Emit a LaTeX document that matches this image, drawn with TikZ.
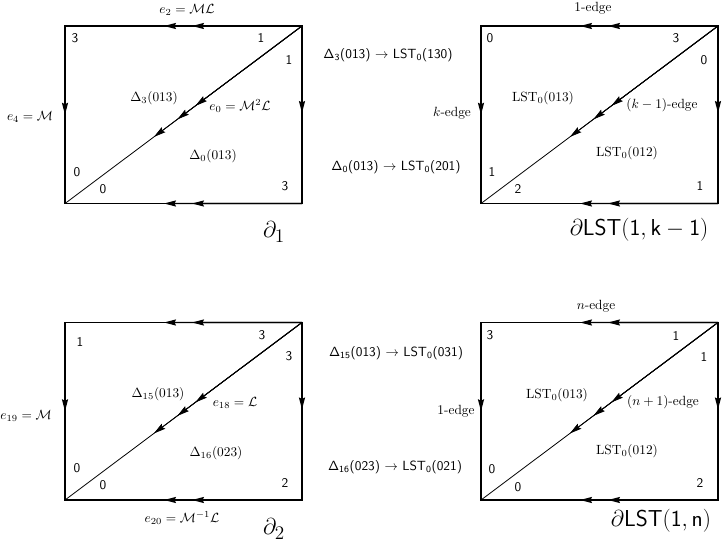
\documentclass[tikz,border=0pt]{standalone}
\usetikzlibrary{arrows.meta,calc}
\tikzset{
  edge/.style={line width=0.9pt,line cap=rect},
  diagline/.style={line width=0.6pt},
  tipped/.style={-{Stealth[length=9pt,width=4.6pt,inset=1.2pt]}},
  num/.style={font=\sffamily, inner sep=0pt},
  lab/.style={inner sep=0pt},
  big/.style={inner sep=0pt, font=\fontsize{19}{22}\selectfont},
}
\newcommand\mypanel[3]{%
  \coordinate (#1tl) at (#2,#3);
  \coordinate (#1tr) at (#2+237,#3);
  \coordinate (#1bl) at (#2,#3+177.5);
  \coordinate (#1br) at (#2+237,#3+177.5);
  \draw[edge] (#1tr) -- (#1tl) -- (#1bl) -- (#1br) -- cycle;
  \draw[diagline] (#1tr) -- (#1bl);
  \foreach \f in {0.464,0.582}{
    \draw[line width=0.9pt,tipped] (#1tr) -- ($(#1tr)!\f!(#1tl)$);
    \draw[line width=0.9pt,tipped] (#1br) -- ($(#1br)!\f!(#1bl)$);
  }
  \draw[line width=0.9pt,tipped] (#1tl) -- ($(#1tl)!0.5!(#1bl)$);
  \draw[line width=0.9pt,tipped] (#1tr) -- ($(#1tr)!0.49!(#1br)$);
  \foreach \f in {0.45,0.526,0.625}{
    \draw[diagline,tipped] (#1tr) -- ($(#1tr)!\f!(#1bl)$);
  }
}
\begin{document}
\begin{tikzpicture}[x=0.75pt,y=-0.75pt]
\useasboundingbox (0,0) rectangle (722,545);

\mypanel{A}{65}{26}
\mypanel{B}{481}{26}
\mypanel{C}{65}{322.5}
\mypanel{D}{481}{322.5}

% Panel A
\node[lab] (a1) at (187,10) {$e_2=\mathcal{M}\mathcal{L}$};
\node[num] (a2) at (75,38) {3};
\node[num] (a3) at (261,38) {1};
\node[num] (a4) at (289,60) {1};
\node[lab] (a5) at (30,117) {$e_4=\mathcal{M}$};
\node[lab] (a6) at (154,98) {$\Delta_3(013)$};
\node[lab] (a7) at (240,106) {$e_0=\mathcal{M}^2\mathcal{L}$};
\node[lab] (a8) at (213,156) {$\Delta_0(013)$};
\node[num] (a9) at (77,172) {0};
\node[num] (a10) at (103,189) {0};
\node[num] (a11) at (285,186) {3};
\node[big] (a12) at (274,232) {$\partial_1$};

% Panel B
\node[lab] (b1) at (593,8) {1-edge};
\node[num] (b2) at (490,38) {0};
\node[num] (b3) at (676,38) {3};
\node[num] (b4) at (704,60) {0};
\node[num] (b5) at (388,55) {$\mathsf{\Delta}_{\mathsf{3}}$(013) $\to$ LST$_{\mathsf{0}}$(130)};
\node[lab] (b6) at (543,98) {$\mathrm{LST}_0(013)$};
\node[lab] (b7) at (452,113) {$k$-edge};
\node[lab] (b8) at (662,105) {$(k-1)$-edge};
\node[num] (b9) at (396,167) {$\mathsf{\Delta}_{\mathsf{0}}$(013) $\to$ LST$_{\mathsf{0}}$(201)};
\node[lab] (b10) at (627,153) {$\mathrm{LST}_0(012)$};
\node[num] (b11) at (492,172) {1};
\node[num] (b12) at (518,189) {2};
\node[num] (b13) at (700,186) {1};
\node[big] (b14) at (639,230) {$\partial\mathsf{LST}(\mathsf{1},\mathsf{k}-\mathsf{1})$};

% Panel C
\node[num] (c1) at (80,342) {1};
\node[num] (c2) at (262,335) {3};
\node[num] (c3) at (289,356) {3};
\node[lab] (c4) at (158,394) {$\Delta_{15}(013)$};
\node[lab] (c5) at (235,403) {$e_{18}=\mathcal{L}$};
\node[lab] (c6) at (26,416) {$e_{19}=\mathcal{M}$};
\node[lab] (c7) at (216,453) {$\Delta_{16}(023)$};
\node[num] (c8) at (77,468) {0};
\node[num] (c9) at (103,485) {0};
\node[num] (c10) at (285,483) {2};
\node[lab] (c11) at (182,518) {$e_{20}=\mathcal{M}^{-1}\mathcal{L}$};
\node[big] (c12) at (274,529) {$\partial_2$};

% Panel D
\node[lab] (d1) at (596,306) {$n$-edge};
\node[num] (d2) at (490,335) {3};
\node[num] (d3) at (676,336) {1};
\node[num] (d4) at (704,357) {1};
\node[num] (d5) at (396,353) {$\mathsf{\Delta}_{\mathsf{15}}$(013) $\to$ LST$_{\mathsf{0}}$(031)};
\node[lab] (d6) at (557,395) {$\mathrm{LST}_0(013)$};
\node[lab] (d7) at (456,411) {1-edge};
\node[lab] (d8) at (663,402) {$(n+1)$-edge};
\node[num] (d9) at (395,467) {$\mathsf{\Delta}_{\mathsf{16}}$(023) $\to$ LST$_{\mathsf{0}}$(021)};
\node[lab] (d10) at (627,451) {$\mathrm{LST}_0(012)$};
\node[num] (d11) at (492,469) {0};
\node[num] (d12) at (518,487) {0};
\node[num] (d13) at (700,483) {2};
\node[big] (d14) at (661,521) {$\partial\mathsf{LST}(\mathsf{1},\mathsf{n})$};
\end{tikzpicture}
\end{document}
